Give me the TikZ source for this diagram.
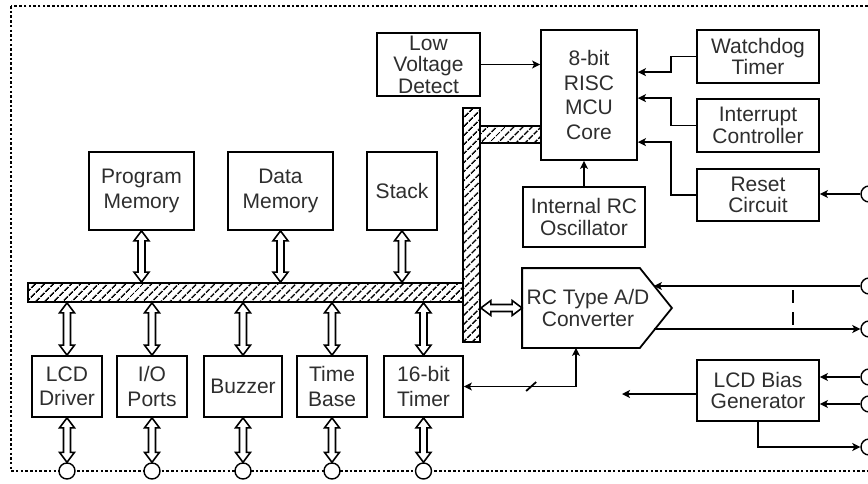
\documentclass[tikz,border=0pt]{standalone}
\usepackage{fontspec}
\setmainfont{Liberation Sans}
\usetikzlibrary{positioning,arrows.meta,patterns.meta,calc}

% hollow double-headed bus links (vertical and horizontal)
\newcommand{\vlink}[2]{%
  \draw[linkarrow] let \p1=#1, \p2=#2 in
    (\x1,\y1) -- (\x1+7.5pt,\y1-10pt) -- (\x1+3.5pt,\y1-10pt) -- (\x1+3.5pt,\y2+10pt)
    -- (\x1+7.5pt,\y2+10pt) -- (\x1,\y2) -- (\x1-7.5pt,\y2+10pt) -- (\x1-3.5pt,\y2+10pt)
    -- (\x1-3.5pt,\y1-10pt) -- (\x1-7.5pt,\y1-10pt) -- cycle;}
\newcommand{\hlink}[2]{%
  \draw[linkarrow] let \p1=#1, \p2=#2 in
    (\x1,\y1) -- (\x1+10pt,\y1+7.5pt) -- (\x1+10pt,\y1+3.5pt) -- (\x2-10pt,\y1+3.5pt)
    -- (\x2-10pt,\y1+7.5pt) -- (\x2,\y1) -- (\x2-10pt,\y1-7.5pt) -- (\x2-10pt,\y1-3.5pt)
    -- (\x1+10pt,\y1-3.5pt) -- (\x1+10pt,\y1-7.5pt) -- cycle;}

\begin{document}
\begin{tikzpicture}[x=1pt, y=-1pt,
  every node/.style={font=\fontsize{21}{24.5}\selectfont, text=black!82},
  block/.style={draw=black, line width=1.8pt, align=center, inner sep=0pt, fill=white},
  tblock/.style={block, font=\fontsize{21}{21.5}\selectfont},
  busbar/.style={draw=black, line width=1.8pt, inner sep=0pt,
                 pattern={Lines[angle=45, distance=6.5pt, line width=1.7pt]}},
  port/.style={draw=black, line width=1.4pt, circle, fill=white,
               minimum size=16pt, inner sep=0pt},
  linkarrow/.style={draw=black, line width=1.6pt, fill=white, line join=miter},
  wire/.style={line width=1.8pt, -{Stealth[length=8pt, width=8pt, inset=2pt]}},
  wire2/.style={line width=1.8pt,
                {Stealth[length=8pt, width=8pt, inset=2pt]}-{Stealth[length=8pt, width=8pt, inset=2pt]}},
]
\useasboundingbox (0,0) rectangle (868,483);

% ---- chip outline --------------------------------------------------
\draw[line width=1.8pt, dash pattern=on 2.5pt off 2.2pt] (11,6) rectangle (872,471);

% ---- buses ---------------------------------------------------------
\node[busbar, minimum width=435pt, minimum height=19pt] (hbus) at (245.5,292.5) {};
\node[busbar, minimum width=61pt, minimum height=17pt]  (stub) at (510.5,134.5) {};
\node[busbar, minimum width=17pt, minimum height=234pt] (vbus) at (471.5,225) {};

% ---- memory row ----------------------------------------------------
\node[block, minimum width=105pt, minimum height=78pt] (pm)  at (141.5,191) {Program\\Memory};
\node[block, minimum width=105pt, minimum height=78pt] (dm)  at (280.5,191) {Data\\Memory};
\node[block, minimum width=70pt,  minimum height=78pt] (stk) at (402,191)   {Stack};

% ---- peripheral row ------------------------------------------------
\node[block, minimum width=70pt, minimum height=61pt] (lcd) at (67,386.5)    {LCD\\Driver};
\node[block, minimum width=70pt, minimum height=61pt] (io)  at (152,386.5)   {I/O\\Ports};
\node[block, minimum width=78pt, minimum height=61pt] (buz) at (243,386.5)   {Buzzer};
\node[block, minimum width=70pt, minimum height=61pt] (tb)  at (332,386.5)   {Time\\Base};
\node[block, minimum width=79pt, minimum height=61pt] (tmr) at (423.5,386.5) {16-bit\\Timer};

% ---- core and control ----------------------------------------------
\node[tblock, minimum width=103pt, minimum height=63pt] (lvd)  at (428.5,64.5) {Low\\Voltage\\Detect};
\node[block,  minimum width=96pt,  minimum height=130pt] (core) at (589,95)    {8-bit\\RISC\\MCU\\Core};
\node[tblock, minimum width=122pt, minimum height=53pt] (wdt)  at (758,56.5)   {Watchdog\\Timer};
\node[tblock, minimum width=122pt, minimum height=53pt] (irq)  at (758,125.5)  {Interrupt\\Controller};
\node[tblock, minimum width=122pt, minimum height=52pt] (rst)  at (758,195)    {Reset\\Circuit};
\node[tblock, minimum width=122pt, minimum height=60pt] (osc)  at (584,217)    {Internal RC\\Oscillator};
\node[tblock, draw=none, fill=none, minimum width=130pt, minimum height=78pt]
      (adc) at (588,308) {RC Type A/D\\Converter};
\node[tblock, minimum width=122pt, minimum height=61pt] (bias) at (758,390.5)  {LCD Bias\\Generator};

% converter outline: box with a pointed right side
\draw[line width=1.8pt, line join=miter] (adc.north west) -- ([xshift=-14pt]adc.north east)
  -- ([xshift=18pt]adc.east) -- ([xshift=-14pt]adc.south east) -- (adc.south west) -- cycle;

% ---- pins ----------------------------------------------------------
\foreach \nm/\px in {plcd/67, pio/152, pbuz/243, ptb/332, ptmr/423.5}
  \node[port] (\nm) at (\px,471) {};
\foreach \nm/\py in {prst/194, pain/286, paout/329, pb1/377, pb2/404, pb3/447}
  \node[port] (\nm) at (869,\py) {};
\coordinate (biasout) at (622,394);

% ---- bus links -----------------------------------------------------
\vlink{(pm.south)}{(pm.south |- hbus.north)}
\vlink{(dm.south)}{(dm.south |- hbus.north)}
\vlink{(stk.south)}{(stk.south |- hbus.north)}
\foreach \blk/\pin in {lcd/plcd, io/pio, buz/pbuz, tb/ptb, tmr/ptmr} {
  \vlink{(\blk.north |- hbus.south)}{(\blk.north)}
  \vlink{(\blk.south)}{(\pin.north)}
}
\hlink{(vbus.east |- adc.west)}{(adc.west)}

% ---- control wires -------------------------------------------------
\draw[wire] (lvd.east) -- (lvd.east -| core.west);
\draw[wire] (wdt.west) -- ++(-25,0) |- ([yshift=-43pt]core.north east);
\draw[wire] (irq.west) -- ++(-25,0) |- ([yshift=-69pt]core.north east);
\draw[wire] (rst.west) -- ++(-25,0) |- ([yshift=-113pt]core.north east);
\draw[wire] (prst.west) -- (prst.west -| rst.east);
\draw[wire] (osc.north) -- (osc.north |- core.south);

% ---- converter and bias --------------------------------------------
\draw[wire] (pain.west) -- (pain.west -| adc.east);
\draw[wire] (paout.west -| adc.east) -- (paout.west);
\draw[line width=1.8pt, dash pattern=on 13pt off 9pt] (793,290) -- (793,326);
\draw[wire2] (tmr.east) -| coordinate[pos=0.3] (tick) ([xshift=-12pt]adc.south);
\draw[line width=1.8pt] ([shift={(-5pt,-4.5pt)}]tick) -- ++(10pt,9pt);
\draw[wire] (bias.west |- biasout) -- (biasout);
\draw[wire] (pb1.west) -- (pb1.west -| bias.east);
\draw[wire] (pb2.west) -- (pb2.west -| bias.east);
\draw[wire] (bias.south) |- (pb3.west);

\end{tikzpicture}
\end{document}
